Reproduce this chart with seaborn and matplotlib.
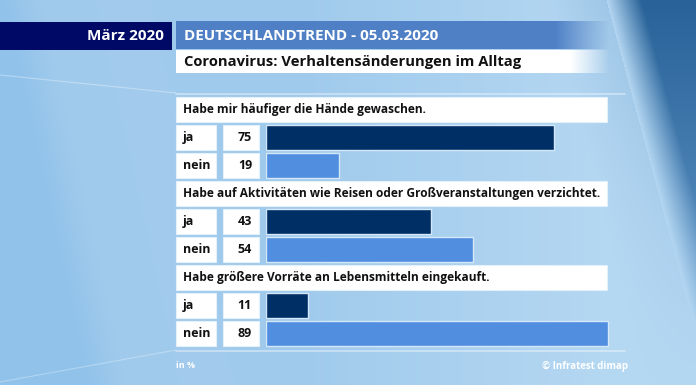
import matplotlib
matplotlib.use("Agg")
import matplotlib.pyplot as plt
import numpy as np
import pandas as pd
import seaborn as sns
from matplotlib.patches import Rectangle
from matplotlib.transforms import blended_transform_factory

# --- data -----------------------------------------------------------------
month_label = "März 2020"
header_title = "DEUTSCHLANDTREND - 05.03.2020"
subtitle = "Coronavirus: Verhaltensänderungen im Alltag"
questions = [
    "Habe mir häufiger die Hände gewaschen.",
    "Habe auf Aktivitäten wie Reisen oder Großveranstaltungen verzichtet.",
    "Habe größere Vorräte an Lebensmitteln eingekauft.",
]
answers = ["ja", "nein"]
ja_values = [75, 43, 11]
nein_values = [19, 54, 89]
unit_note = "in %"
source_note = "© Infratest dimap"

DARK = "#002f66"
LIGHT = "#528ee0"
NAVY = "#000a66"
HEADER_BLUE = "#4f80c6"
W, H = 696, 385


def fx(px):
    return px / W


def fy(py):
    return 1 - py / H


# rows: question header, ja, nein for each question
records = []
order = []
for i, q in enumerate(questions):
    order.append(f"q{i}")
    for a, v in zip(answers, [ja_values[i], nein_values[i]]):
        key = f"q{i}_{a}"
        order.append(key)
        records.append({"row": key, "answer": a, "value": v})
df = pd.DataFrame(records)

sns.set_theme(style="white")
plt.rcParams["font.family"] = ["Open Sans", "DejaVu Sans"]

fig = plt.figure(figsize=(W / 100, H / 100), dpi=100)

# --- background ------------------------------------------------------------
bg = fig.add_axes([0, 0, 1, 1])
yy, xx = np.mgrid[0:H, 0:W].astype(float)
base = np.array([160, 202, 236]) / 255
lighter = np.array([180, 215, 242]) / 255
t = np.clip((xx - 300) / 300, 0, 1)[..., None]
img = base * (1 - t) + lighter * t
# soft darker streak on the left
u = xx - 0.22 * yy
k = np.clip((40 - u) / 40, 0, 1)[..., None] * 0.8
img = img * (1 - k) + (np.array([140, 192, 234]) / 255) * k
band = (u > 95) & (u < 150)
img[band] = img[band] * 0.985 + 0.015
# dark diagonal panel on the right
edge = 606 + 0.27 * yy
dark_top = np.array([40, 98, 152]) / 255
dark_bot = np.array([110, 162, 210]) / 255
s = np.clip(yy / 385, 0, 1)[..., None]
dark = dark_top * (1 - s) + dark_bot * s
mask = xx > edge
d = np.clip((xx - edge) / 35, 0, 1)[..., None]
img = np.where(mask[..., None], img * (1 - d) + dark * d, img)
pre = (xx > edge - 60) & ~mask
p = np.clip((xx - (edge - 60)) / 60, 0, 1)[..., None] * 0.3 * (1 - s)
img = np.where(pre[..., None], img * (1 - p) + (np.array([110, 160, 205]) / 255) * p, img)
bg.imshow(np.clip(img, 0, 1), extent=[0, W, H, 0], aspect="auto")
bg.set_xlim(0, W)
bg.set_ylim(H, 0)
bg.axis("off")

# decorative thin lines
bg.plot([0, 176], [75, 93], color="white", alpha=0.35, lw=0.8)
bg.plot([176, 625], [93.5, 93.5], color="white", alpha=0.45, lw=1.2)
bg.plot([0, 176], [382, 350], color="white", alpha=0.3, lw=0.8)
bg.plot([176, 625], [350.5, 350.5], color="white", alpha=0.45, lw=1.2)

# header boxes
bg.add_patch(Rectangle((0, 22), 172, 27.5, color=NAVY, lw=0))
grad = np.linspace(0, 1, 55)
hb = np.zeros((1, 434, 4))
hb[..., :3] = matplotlib.colors.to_rgb(HEADER_BLUE)
hb[0, :, 3] = np.concatenate([np.ones(379), 1 - grad])
bg.imshow(hb, extent=[176, 610, 49.5, 22], aspect="auto")
wb = np.ones((1, 434, 4))
wb[0, :, 3] = np.concatenate([np.ones(394), 1 - np.linspace(0, 1, 40)])
bg.imshow(wb, extent=[176, 610, 73, 50.5], aspect="auto")
bg.set_xlim(0, W)
bg.set_ylim(H, 0)
bg.text(164, 36, month_label, color="white", fontsize=11, fontweight="bold",
        ha="right", va="center")
bg.text(184, 36, header_title, color="white", fontsize=11, fontweight="bold",
        ha="left", va="center")
bg.text(184, 62, subtitle, color="#111111", fontsize=10.6, fontweight="bold",
        ha="left", va="center")
bg.text(176, 366, unit_note, color="white", fontsize=6.5, fontweight="bold",
        ha="left", va="center")
bg.text(628, 366, source_note, color="white", fontsize=7, fontweight="bold",
        ha="right", va="center")

# --- bars ------------------------------------------------------------------
ax = fig.add_axes([fx(266), fy(347.5), fx(650) - fx(266), 252 / H])
ax.patch.set_alpha(0)
sns.barplot(
    data=df, y="row", x="value", hue="answer", order=order,
    palette={"ja": DARK, "nein": LIGHT}, dodge=False, width=0.89,
    saturation=1, edgecolor="#d4e8f8", linewidth=1, legend=False, ax=ax,
)
ax.set_xlim(0, 100)
ax.set_ylim(8.5, -0.5)
ax.axis("off")

tr = blended_transform_factory(fig.transFigure, ax.transData)
box_h = 0.89
for i, q in enumerate(questions):
    r = 3 * i
    ax.add_patch(Rectangle((fx(176), r - box_h / 2), fx(607) - fx(176), box_h,
                           transform=tr, facecolor="white", edgecolor="#e4f0fa",
                           lw=0.8, clip_on=False))
    ax.text(fx(183), r, q, transform=tr, fontsize=8.6, fontweight="bold",
            color="#111111", va="center", ha="left")
    for j, (a, v) in enumerate(zip(answers, [ja_values[i], nein_values[i]])):
        rr = r + 1 + j
        ax.add_patch(Rectangle((fx(176), rr - box_h / 2), fx(216) - fx(176), box_h,
                               transform=tr, facecolor="white", edgecolor="#e4f0fa",
                               lw=0.8, clip_on=False))
        ax.add_patch(Rectangle((fx(223), rr - box_h / 2), fx(259) - fx(223), box_h,
                               transform=tr, facecolor="white", edgecolor="#e4f0fa",
                               lw=0.8, clip_on=False))
        ax.text(fx(183), rr, a, transform=tr, fontsize=9, fontweight="bold",
                color="#111111", va="center", ha="left")
        ax.text(fx(252), rr, str(v), transform=tr, fontsize=9, fontweight="bold",
                color="#111111", va="center", ha="right")

fig.savefig("out.png", dpi=100)
